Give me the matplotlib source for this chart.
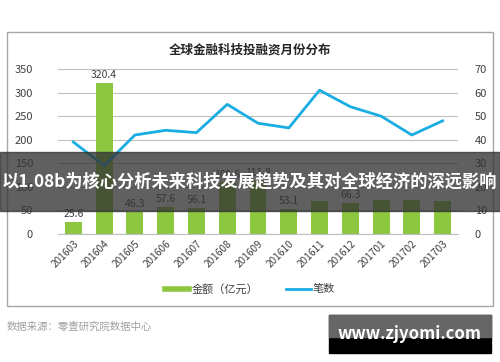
import matplotlib
matplotlib.use("Agg")
import matplotlib.pyplot as plt
from matplotlib.patches import Rectangle

plt.rcParams['font.family'] = ['Noto Sans CJK SC', 'DejaVu Sans']

# data
months = ['201603', '201604', '201605', '201606', '201607', '201608', '201609',
          '201610', '201611', '201612', '201701', '201702', '201703']
amount = [25.6, 320.4, 46.3, 57.6, 56.1, 109.6, 111.8, 53.1, 70.2, 66.3, 72.1, 72.4, 70.3]
deals = [39, 29, 42, 44, 43, 55, 47, 45, 61, 54, 50, 42, 48]
amount_labels = ['25.6', '320.4', '46.3', '57.6', '56.1', '109.6', '111.8', '53.1',
                 '', '66.3', '', '', '']

GREEN = '#8DC63F'
BLUE = '#1AADE3'
GRID = '#BFBFBF'

fig = plt.figure(figsize=(5, 3.62), dpi=100)

# outer frame
fig.patches.append(Rectangle((7/500, 1-306/362), 486/500, 274/362, transform=fig.transFigure,
                             fill=False, edgecolor='#A6A6A6', lw=1.0))

ax = fig.add_axes([58/500, 1-234/362, 400/500, 165/362])
x = range(len(months))
ax.bar(x, amount, width=0.55, color=GREEN, zorder=2)
ax.set_ylim(0, 350)
ax.set_xlim(-0.5, len(months)-0.5)
ax.set_yticks(range(0, 351, 50))
ax.grid(axis='y', color=GRID, lw=0.8, zorder=0)
for s in ['top', 'left', 'right']:
    ax.spines[s].set_visible(False)
ax.spines['bottom'].set_color(GRID)
ax.tick_params(axis='y', length=0, labelsize=8, colors='#404040', pad=18)
ax.tick_params(axis='x', length=0, labelsize=7.3, colors='#404040')
ax.set_xticks(list(x))
ax.set_xticklabels(months, rotation=45, ha='right', rotation_mode='anchor')
for i, (v, t) in enumerate(zip(amount, amount_labels)):
    if t:
        ax.text(i, v+6, t, ha='center', va='bottom', fontsize=7.5, color='#404040')

ax2 = ax.twinx()
ax2.plot(list(x), deals, color=BLUE, lw=2, zorder=3)
ax2.set_ylim(0, 70)
ax2.set_yticks(range(0, 71, 10))
for s in ['top', 'left', 'right', 'bottom']:
    ax2.spines[s].set_visible(False)
ax2.tick_params(axis='y', length=0, labelsize=8, colors='#404040', pad=12)

fig.text(0.5, 1-50/362, '全球金融科技投融资月份分布', ha='center', va='center',
         fontsize=9, fontweight='bold', color='#262626')

# legend
ax.plot([], [], color=GREEN, lw=4, label='金额（亿元）')
ax2.plot([], [], color=BLUE, lw=2, label='笔数')
h1, l1 = ax.get_legend_handles_labels()
h2, l2 = ax2.get_legend_handles_labels()
fig.legend(h1[-1:] + h2, l1[-1:] + l2, loc='center', bbox_to_anchor=(0.5, 1-289/362),
           ncol=2, frameon=False, fontsize=8, handlelength=2.2, handletextpad=0.2,
           columnspacing=2.5, labelcolor='#404040')

fig.text(7/500, 1-327/362, '数据来源：零壹研究院数据中心', ha='left', va='center',
         fontsize=7.5, color='#A0A0A0')

# overlay banner
fig.patches.append(Rectangle((0, 1-211/362), 1, 59/362, transform=fig.transFigure,
                             color='#333333', alpha=0.78, zorder=10))
fig.text(0.5, 1-181/362, '以1.08b为核心分析未来科技发展趋势及其对全球经济的深远影响',
         ha='center', va='center', fontsize=12.4, fontweight='bold', color='white', zorder=11)

# site stamp
fig.patches.append(Rectangle((329/500, 1-353/362), 162/500, 38/362, transform=fig.transFigure,
                             color='black', zorder=10))
fig.patches.append(Rectangle((329/500, 1-337/362), 162/500, 22/362, transform=fig.transFigure,
                             color='#666666', zorder=10))
fig.text(410/500, 1-334/362, 'www.zjyomi.com', ha='center', va='center',
         fontsize=12, fontweight='bold', color='white', zorder=11)

fig.savefig('out.png', dpi=100)
